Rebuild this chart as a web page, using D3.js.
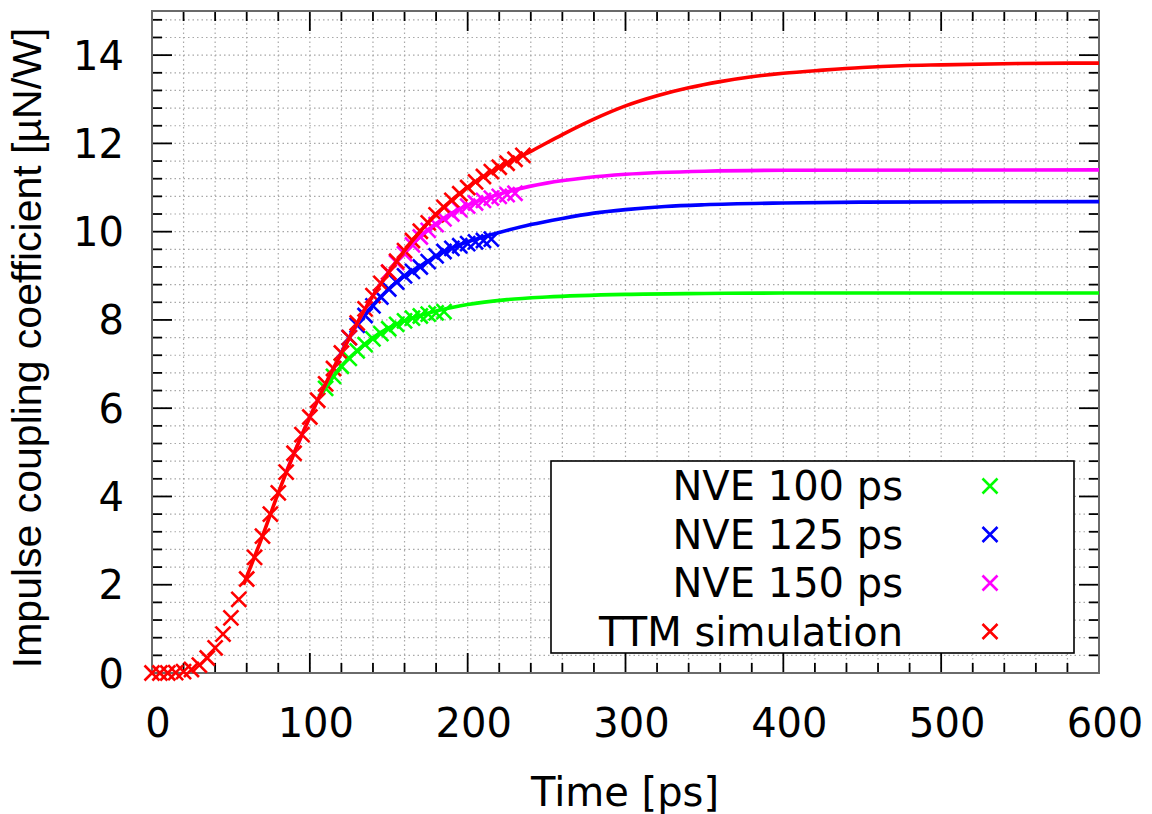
<!DOCTYPE html>
<html>
<head>
<meta charset="utf-8">
<script src="https://cdn.jsdelivr.net/npm/d3@7"></script>
<style>
  html, body { margin: 0; padding: 0; background: #fff; }
  svg { display: block; }
</style>
</head>
<body>
<div id="chart"></div>
<script>
// ---------------- data ----------------
const seriesNames = ["NVE 100 ps", "NVE 125 ps", "NVE 150 ps", "TTM simulation"];
const seriesColors = ["#00ff00", "#0000ff", "#ff00ff", "#ff0000"];

const xTickLabels = [0, 100, 200, 300, 400, 500, 600];
const yTickLabels = [0, 2, 4, 6, 8, 10, 12, 14];

// markers (time [ps], coefficient [uN/W])
const ttmTime = [0,5,10,15,20,25,30,35,40,45,50,55,60,65,70,75,80,85,90,95,100,105,110,115,120,125,130,135,140,145,150,155,160,165,170,175,180,185,190,195,200,205,210,215,220,225,230,235];
const ttmValue = [0.0,0.0,0.0,0.01,0.03,0.08,0.18,0.34,0.57,0.88,1.25,1.67,2.13,2.62,3.10,3.60,4.08,4.55,4.98,5.40,5.80,6.18,6.55,6.90,7.25,7.60,7.93,8.25,8.55,8.83,9.08,9.33,9.57,9.80,10.01,10.20,10.38,10.55,10.71,10.86,11.00,11.13,11.25,11.36,11.46,11.55,11.64,11.73];

const nve100Time = [110,115,120,125,130,135,140,145,150,155,160,165,170,175,180,185];
const nve100Value = [6.45,6.72,6.95,7.13,7.30,7.44,7.57,7.69,7.80,7.90,7.98,8.04,8.09,8.13,8.16,8.19];

const nve125Time = [125,130,135,140,145,150,155,160,165,170,175,180,185,190,195,200,205,210,215];
const nve125Value = [7.60,7.88,8.10,8.32,8.52,8.70,8.86,9.00,9.10,9.20,9.32,9.45,9.55,9.62,9.68,9.73,9.77,9.80,9.83];

const nve150Time = [150,155,160,165,170,175,180,185,190,195,200,205,210,215,220,225,230];
const nve150Value = [9.08,9.30,9.50,9.70,9.88,10.03,10.16,10.29,10.40,10.50,10.58,10.65,10.71,10.76,10.80,10.84,10.87];

// fitted curves
const ttmFitTime = [58,70,80,90,100,110,120,130,140,150,160,170,180,190,200,220,240,260,280,300,320,340,360,380,400,425,450,475,500,550,600];
const ttmFitValue = [2.0,3.10,4.08,4.98,5.80,6.55,7.25,7.93,8.55,9.08,9.57,10.01,10.40,10.72,11.01,11.46,11.82,12.20,12.55,12.85,13.08,13.26,13.40,13.51,13.59,13.66,13.72,13.76,13.78,13.81,13.82];

const nve100FitTime = [108,115,120,130,140,150,160,170,180,190,200,225,250,300,350,400,600];
const nve100FitValue = [6.35,6.72,6.95,7.30,7.60,7.82,7.98,8.10,8.20,8.28,8.35,8.46,8.52,8.58,8.60,8.61,8.61];

const nve125FitTime = [118,130,140,150,160,170,180,190,200,210,220,240,260,280,300,325,350,400,450,600];
const nve125FitValue = [7.12,7.90,8.33,8.70,9.00,9.22,9.45,9.63,9.77,9.88,9.98,10.16,10.30,10.42,10.50,10.57,10.61,10.65,10.67,10.68];

const nve150FitTime = [85,100,120,140,160,170,180,190,200,210,220,230,250,275,300,350,400,600];
const nve150FitValue = [4.55,5.80,7.25,8.55,9.55,9.90,10.18,10.42,10.60,10.74,10.85,10.95,11.10,11.22,11.30,11.37,11.39,11.40];

// ---------------- layout ----------------
const W = 1152, H = 814;
const svg = d3.select("#chart").append("svg").attr("width", W).attr("height", H);

const x = d3.scaleLinear().domain([0, 600]).range([152, 1099]);
const y = d3.scaleLinear().domain([0, 15]).range([673, 11]);

const xMinor = d3.range(0, 601, 20);
const yMinor = d3.range(0, 15.001, 0.4).map(v => +v.toFixed(2));

// grid
const grid = svg.append("g");
grid.selectAll("line.gx").data(xMinor.filter(v => v > 0 && v < 600)).join("line")
  .attr("x1", d => x(d)).attr("x2", d => x(d)).attr("y1", y(0)).attr("y2", y(15))
  .attr("stroke", "#a8a8a8").attr("stroke-width", 1.2).attr("stroke-dasharray", "1.5,3");
grid.selectAll("line.gy").data(yMinor.filter(v => v > 0 && v < 15)).join("line")
  .attr("y1", d => y(d)).attr("y2", d => y(d)).attr("x1", x(0)).attr("x2", x(600))
  .attr("stroke", "#a8a8a8").attr("stroke-width", 1.2).attr("stroke-dasharray", "1.5,3");

// ticks (inward, mirrored)
const ticks = svg.append("g").attr("stroke", "#000").attr("stroke-width", 1.8);
const isMajorX = v => xTickLabels.includes(v);
const isMajorY = v => yTickLabels.includes(v);
xMinor.forEach(v => {
  const len = isMajorX(v) ? 20 : 10;
  ticks.append("line").attr("x1", x(v)).attr("x2", x(v)).attr("y1", y(0)).attr("y2", y(0) - len);
  ticks.append("line").attr("x1", x(v)).attr("x2", x(v)).attr("y1", y(15)).attr("y2", y(15) + len);
});
yMinor.forEach(v => {
  const len = isMajorY(v) ? 20 : 10;
  ticks.append("line").attr("y1", y(v)).attr("y2", y(v)).attr("x1", x(0)).attr("x2", x(0) + len);
  ticks.append("line").attr("y1", y(v)).attr("y2", y(v)).attr("x1", x(600)).attr("x2", x(600) - len);
});

// frame
svg.append("rect").attr("x", x(0)).attr("y", y(15)).attr("width", x(600) - x(0)).attr("height", y(0) - y(15))
  .attr("fill", "none").attr("stroke", "#6a6a6a").attr("stroke-width", 2);

// tick labels
const font = "'DejaVu Sans', sans-serif";
svg.append("g").selectAll("text").data(xTickLabels).join("text")
  .attr("x", d => x(d) + 6).attr("y", 737)
  .attr("text-anchor", "middle").attr("font-family", font).attr("font-size", 40).attr("fill", "#000")
  .text(d => d);
svg.append("g").selectAll("text").data(yTickLabels).join("text")
  .attr("x", 124).attr("y", d => y(d) + 14.5)
  .attr("text-anchor", "end").attr("font-family", font).attr("font-size", 40).attr("fill", "#000")
  .text(d => d);

// axis titles
svg.append("text").attr("x", 625).attr("y", 806).attr("text-anchor", "middle")
  .attr("font-family", font).attr("font-size", 40).attr("fill", "#000").text("Time [ps]");
svg.append("text").attr("transform", "translate(41,348) rotate(-90)").attr("text-anchor", "middle")
  .attr("font-family", "'Liberation Sans', Arial, sans-serif").attr("font-size", 41).attr("fill", "#000")
  .text("Impulse coupling coefficient [µN/W]");

// data
const plot = svg.append("g");
const pointSets = [
  [nve100Time, nve100Value],
  [nve125Time, nve125Value],
  [nve150Time, nve150Value],
  [ttmTime, ttmValue]
];
const fitSets = [
  [nve100FitTime, nve100FitValue],
  [nve125FitTime, nve125FitValue],
  [nve150FitTime, nve150FitValue],
  [ttmFitTime, ttmFitValue]
];
const m = 7.5;
function cross(g, cx, cy, color) {
  g.append("path").attr("d", `M${cx - m},${cy - m}L${cx + m},${cy + m}M${cx - m},${cy + m}L${cx + m},${cy - m}`)
    .attr("stroke", color).attr("stroke-width", 2.6).attr("fill", "none");
}
pointSets.forEach(([ts, vs], i) => {
  ts.forEach((t, j) => cross(plot, x(t), y(vs[j]), seriesColors[i]));
});
const line = d3.line().x(d => x(d[0])).y(d => y(d[1])).curve(d3.curveMonotoneX);
fitSets.forEach(([ts, vs], i) => {
  plot.append("path").datum(ts.map((t, j) => [t, vs[j]]))
    .attr("d", line).attr("fill", "none").attr("stroke", seriesColors[i]).attr("stroke-width", 3.6);
});

// legend
const lg = svg.append("g");
lg.append("rect").attr("x", 551).attr("y", 461).attr("width", 523).attr("height", 192)
  .attr("fill", "#fff").attr("stroke", "#000").attr("stroke-width", 1.6);
seriesNames.forEach((name, i) => {
  const cy = 486 + i * 48.5;
  lg.append("text").attr("x", 903).attr("y", cy + 14).attr("text-anchor", "end")
    .attr("font-family", font).attr("font-size", 40).attr("fill", "#000").text(name);
  cross(lg, 990, cy, seriesColors[i]);
});
</script>
</body>
</html>
